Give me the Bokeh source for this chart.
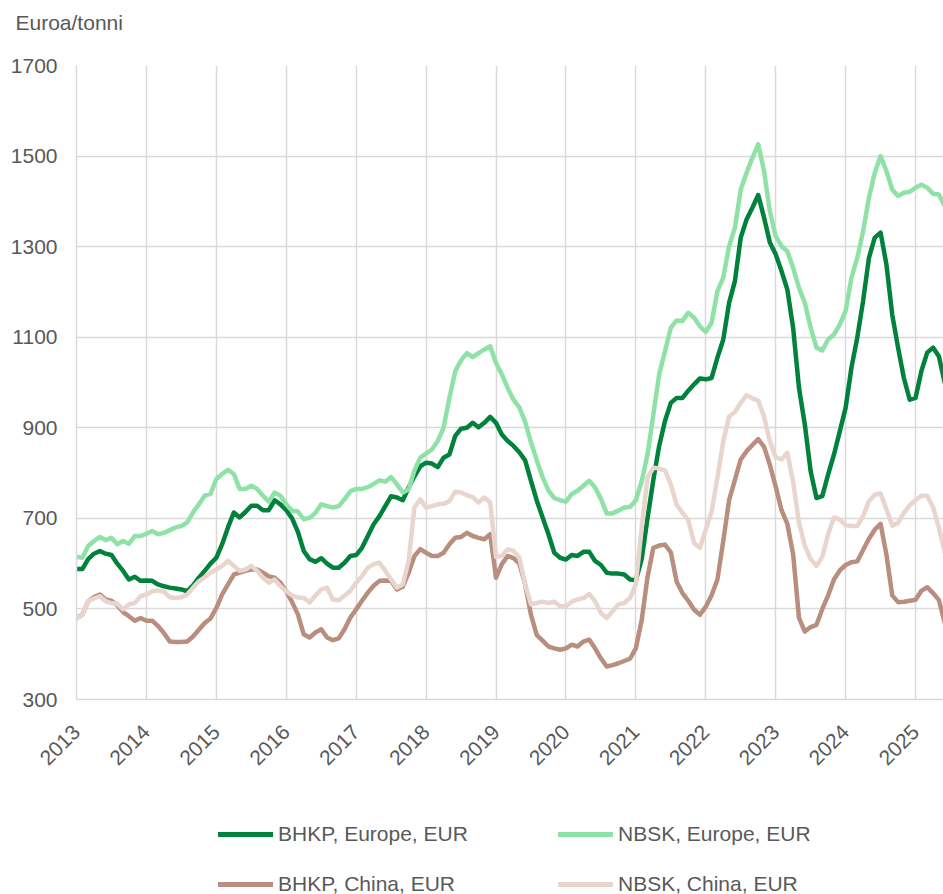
import math
from bokeh.plotting import figure
from bokeh.layouts import column
from bokeh.models import Range1d, FixedTicker, Legend, LegendItem
from bokeh.embed import file_html
from bokeh.resources import INLINE

# ---------------- data (monthly, Jan 2013 .. Jun 2025) ----------------
start_year = 2013
year_ticks = list(range(2013, 2026))
year_labels = [str(y) for y in year_ticks]
y_ticks = [300, 500, 700, 900, 1100, 1300, 1500, 1700]
unit_label = "Euroa/tonni"

series_names = ["BHKP, Europe, EUR", "NBSK, Europe, EUR", "BHKP, China, EUR", "NBSK, China, EUR"]

bhkp_europe = [
    588, 588, 610, 622, 628, 622, 619, 600, 584, 565, 571, 562,
    563, 562, 554, 550, 547, 545, 543, 539, 552, 569, 584, 600,
    613, 643, 680, 713, 702, 714, 728, 728, 718, 718, 740, 731,
    718, 700, 670, 628, 610, 604, 612, 600, 591, 591, 602, 617,
    619, 635, 661, 687, 705, 727, 749, 746, 740, 768, 793, 815,
    823, 821, 813, 834, 841, 882, 898, 900, 911, 901, 911, 924,
    911, 885, 871, 860, 846, 828, 783, 739, 702, 665, 624, 613,
    609, 619, 617, 626, 626, 606, 597, 580, 578, 578, 576, 565,
    563, 610, 700, 785, 860, 915, 955, 966, 966, 982, 996, 1009,
    1007, 1010, 1055, 1095, 1176, 1224, 1320, 1360, 1386, 1414, 1364, 1309,
    1283, 1246, 1205, 1120, 988, 907, 804, 745, 749, 797, 841, 892,
    944, 1033, 1099, 1180, 1275, 1320, 1331, 1261, 1150, 1077, 1010, 962,
    966, 1025, 1066, 1077, 1058, 1000,
]

nbsk_europe = [
    615, 613, 639, 650, 659, 652, 657, 643, 650, 644, 661, 661,
    666, 672, 665, 668, 674, 680, 683, 691, 713, 731, 750, 754,
    787, 798, 807, 798, 765, 765, 772, 765, 750, 737, 757, 750,
    731, 717, 715, 698, 701, 712, 731, 727, 724, 727, 742, 760,
    765, 765, 769, 776, 784, 781, 791, 775, 757, 764, 806, 834,
    843, 852, 871, 900, 966, 1025, 1049, 1065, 1056, 1065, 1073, 1080,
    1043, 1018, 988, 962, 945, 913, 868, 828, 791, 761, 745, 740,
    737, 754, 761, 772, 783, 768, 743, 711, 711, 717, 724, 725,
    740, 782, 841, 929, 1018, 1069, 1121, 1137, 1136, 1154, 1143, 1124,
    1112, 1132, 1202, 1231, 1301, 1342, 1426, 1463, 1496, 1526, 1467, 1378,
    1323, 1301, 1290, 1253, 1209, 1176, 1121, 1077, 1071, 1095, 1106, 1128,
    1158, 1231, 1275, 1334, 1408, 1463, 1500, 1467, 1426, 1412, 1419, 1421,
    1430, 1437, 1430, 1417, 1415, 1390,
]

bhkp_china = [
    480, 487, 517, 526, 532, 521, 518, 508, 493, 484, 474, 480,
    474, 474, 462, 447, 428, 427, 427, 428, 439, 454, 469, 479,
    502, 532, 554, 576, 580, 584, 587, 587, 580, 572, 569, 558,
    539, 515, 488, 444, 437, 448, 455, 437, 431, 435, 455, 481,
    499, 518, 536, 551, 562, 563, 562, 543, 549, 580, 617, 632,
    624, 617, 617, 624, 643, 657, 659, 668, 661, 657, 654, 665,
    569, 599, 617, 612, 600, 554, 487, 442, 430, 417, 413, 410,
    413, 421, 417, 428, 432, 413, 391, 373, 376, 380, 385, 390,
    413, 475, 570, 635, 640, 642, 625, 560, 535, 518, 498, 487,
    505, 530, 565, 650, 740, 785, 830, 848, 862, 875, 858, 818,
    770, 718, 688, 620, 480, 450, 460, 465, 500, 530, 565, 585,
    597, 603, 605, 630, 655, 675, 688, 620, 530, 515, 516, 518,
    520, 540, 548, 535, 520, 470,
]

nbsk_china = [
    479, 487, 517, 523, 528, 517, 513, 511, 499, 510, 513, 528,
    532, 539, 541, 538, 526, 524, 526, 532, 547, 561, 570, 580,
    587, 595, 606, 595, 584, 587, 595, 584, 569, 558, 565, 550,
    539, 530, 525, 524, 514, 529, 543, 547, 521, 519, 529, 540,
    558, 573, 591, 599, 602, 584, 565, 547, 554, 606, 724, 742,
    724, 727, 731, 732, 738, 759, 757, 751, 747, 735, 746, 735,
    615, 617, 632, 628, 613, 554, 510, 513, 516, 513, 516, 506,
    506, 516, 521, 524, 533, 517, 491, 480, 495, 510, 513, 524,
    555, 680, 790, 812, 810, 806, 775, 730, 712, 696, 645, 635,
    675, 715, 790, 870, 925, 935, 955, 972, 965, 960, 925, 870,
    835, 830, 845, 780, 690, 640, 610, 595, 615, 665, 702, 697,
    685, 683, 683, 705, 738, 752, 755, 720, 684, 690, 712, 729,
    740, 750, 750, 725, 680, 625,
]

series_values = [bhkp_europe, nbsk_europe, bhkp_china, nbsk_china]
series_colors = ["#00823C", "#8FE2A6", "#B88E7E", "#E8D5CD"]

months = [start_year + i / 12 for i in range(len(bhkp_europe))]

# ---------------- styling ----------------
FONT = "Liberation Sans"
TXT = "#595959"
GRID = "#D9D9D9"
W = 943


def bare_figure(h, **kw):
    f = figure(width=W, height=h, x_range=Range1d(0, 1), y_range=Range1d(0, 1),
               output_backend="svg", toolbar_location=None,
               x_axis_location=None, y_axis_location=None,
               min_border_left=0, min_border_right=0, min_border_top=0, min_border_bottom=0,
               **kw)
    f.outline_line_color = None
    f.grid.visible = False
    return f


# ---------------- top strip with unit label (as a title) ----------------
top = bare_figure(52, title=unit_label)
top.title.align = "left"
top.title.offset = -61
top.title.standoff = 17
top.title.text_font = FONT
top.title.text_font_size = "21px"
top.title.text_font_style = "normal"
top.title.text_color = TXT

# ---------------- main chart ----------------
p = figure(
    width=W, height=732,
    x_range=Range1d(2013, 2025.40), y_range=Range1d(300, 1700),
    output_backend="svg", toolbar_location=None,
    min_border_left=76, min_border_right=0, min_border_top=13, min_border_bottom=85,
)
p.outline_line_color = None

p.xgrid.ticker = FixedTicker(ticks=year_ticks)
p.ygrid.ticker = FixedTicker(ticks=y_ticks)
for g in (p.xgrid, p.ygrid):
    g.grid_line_color = GRID
    g.grid_line_width = 1.5

p.xaxis.ticker = FixedTicker(ticks=year_ticks)
p.xaxis.major_label_overrides = {y: lab for y, lab in zip(year_ticks, year_labels)}
p.xaxis.major_label_orientation = math.pi / 4
p.yaxis.ticker = FixedTicker(ticks=y_ticks)
for ax in (p.xaxis[0], p.yaxis[0]):
    ax.axis_line_color = GRID
    ax.axis_line_width = 1.5
    ax.major_tick_line_color = None
    ax.minor_tick_line_color = None
    ax.major_label_text_font = FONT
    ax.major_label_text_font_size = "21px"
    ax.major_label_text_color = TXT
p.yaxis.major_label_standoff = 13
p.xaxis.major_label_standoff = 23

for vals, col in zip(series_values, series_colors):
    p.line(months, vals, line_color=col, line_width=4.5, line_join="round", line_cap="round")

# ---------------- legend strip ----------------
# The legend figure shows the same series, but its view range (0..1) lies outside
# the data, so only the legend samples are visible.
leg_fig = bare_figure(110)
leg_renderers = [leg_fig.line(months, vals, line_color=col, line_width=5, line_cap="round")
                 for vals, col in zip(series_values, series_colors)]
legend = Legend(
    items=[LegendItem(label=n, renderers=[r]) for n, r in zip(series_names, leg_renderers)],
    location=(142, -2), orientation="horizontal", ncols=2,
    glyph_width=55, glyph_height=20, label_height=20, label_width=254,
    label_standoff=5, spacing=26, padding=0, margin=0,
    border_line_color=None, background_fill_alpha=0,
    label_text_font=FONT, label_text_font_size="21px", label_text_color=TXT,
)
leg_fig.add_layout(legend)

layout = column(top, p, leg_fig, spacing=0)
open("out.html", "w").write(file_html(layout, INLINE))
